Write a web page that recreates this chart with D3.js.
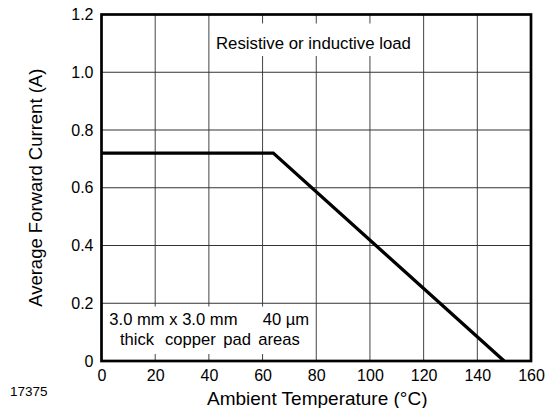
<!DOCTYPE html>
<html>
<head>
<meta charset="utf-8">
<script src="https://cdn.jsdelivr.net/npm/d3@7"></script>
<style>
  body { margin: 0; background: #fff; }
  text { font-family: "Liberation Sans", Arial, Helvetica, sans-serif; fill: #000; }
</style>
</head>
<body>
<svg></svg>
<script>
// derating curve
var temps = [0, 64, 150]
var currents = [0.72, 0.72, 0]
var xTicks = [0, 20, 40, 60, 80, 100, 120, 140, 160]
var yTicks = [0, 0.2, 0.4, 0.6, 0.8, 1.0, 1.2]
var yTickLabels = ["0", "0.2", "0.4", "0.6", "0.8", "1.0", "1.2"]

var dimensions = ({
    width: 546,
    height: 408,
    margin: { top: 14.5, right: 15, bottom: 47, left: 101.5 }
})
var x0 = dimensions.margin.left
var x1 = dimensions.width - dimensions.margin.right
var y0 = dimensions.height - dimensions.margin.bottom
var y1 = dimensions.margin.top

var svg = d3.select("svg").attr("width", dimensions.width)
                          .attr("height", dimensions.height)

var xScale = d3.scaleLinear().domain([0, 160]).range([x0, x1])
var yScale = d3.scaleLinear().domain([0, 1.2]).range([y0, y1])

// grid
svg.append("g").selectAll("line").data(xTicks.slice(1, -1)).enter()
    .append("line")
    .attr("x1", d => xScale(d)).attr("x2", d => xScale(d))
    .attr("y1", y0).attr("y2", y1)
    .attr("stroke", "#444").attr("stroke-width", 1)
svg.append("g").selectAll("line").data(yTicks.slice(1, -1)).enter()
    .append("line")
    .attr("x1", x0).attr("x2", x1)
    .attr("y1", d => yScale(d)).attr("y2", d => yScale(d))
    .attr("stroke", "#333").attr("stroke-width", 1)

// white boxes behind the notes
svg.append("rect").attr("x", 212).attr("y", 23.5).attr("width", 208).attr("height", 32.5).attr("fill", "#fff")
svg.append("rect").attr("x", x0 + 1).attr("y", 306.5).attr("width", 211).attr("height", 47.5).attr("fill", "#fff")

// curve
var line = d3.line().x(d => xScale(d[0])).y(d => yScale(d[1]))
svg.append("path")
    .attr("d", line(d3.zip(temps, currents)))
    .attr("fill", "none").attr("stroke", "#000").attr("stroke-width", 3.3)
    .attr("stroke-linejoin", "miter")

// frame
svg.append("rect").attr("x", x0).attr("y", y1)
    .attr("width", x1 - x0).attr("height", y0 - y1)
    .attr("fill", "none").attr("stroke", "#000").attr("stroke-width", 2.7)

// tick labels
var xAxis = d3.axisBottom(xScale).tickValues(xTicks).tickSize(0).tickPadding(9)
var gx = svg.append("g").attr("transform", "translate(0," + y0 + ")").call(xAxis)
gx.select(".domain").remove()
gx.selectAll("text").style("font-size", "16px").style("font-family", "Liberation Sans, Arial, sans-serif")

var yAxis = d3.axisLeft(yScale).tickValues(yTicks).tickSize(0).tickPadding(8)
    .tickFormat((d, i) => yTickLabels[i])
var gy = svg.append("g").attr("transform", "translate(" + x0 + ",0)").call(yAxis)
gy.select(".domain").remove()
gy.selectAll("text").style("font-size", "16px").style("font-family", "Liberation Sans, Arial, sans-serif")

// axis titles
svg.append("text").attr("x", (x0 + x1) / 2 + 1).attr("y", 405)
    .attr("text-anchor", "middle").style("font-size", "19px")
    .text("Ambient Temperature (°C)")
svg.append("text")
    .attr("transform", "translate(41.5," + (y0 + y1) / 2 + ") rotate(-90)")
    .attr("text-anchor", "middle").style("font-size", "18.5px")
    .text("Average Forward Current (A)")

svg.append("text").attr("x", 10).attr("y", 396).style("font-size", "13.5px").text("17375")

// notes
svg.append("text").attr("x", 216).attr("y", 49.3).style("font-size", "16.8px")
    .text("Resistive or inductive load")

var note = svg.append("text").style("font-size", "16.6px")
note.append("tspan").attr("x", 109.3).attr("y", 325).text("3.0 mm x 3.0 mm")
note.append("tspan").attr("x", 262.7).attr("y", 325).text("40 µm")
note.append("tspan").attr("x", 120).attr("y", 345).text("thick")
note.append("tspan").attr("x", 165).attr("y", 345).text("copper")
note.append("tspan").attr("x", 223.3).attr("y", 345).text("pad")
note.append("tspan").attr("x", 258.3).attr("y", 345).text("areas")
</script>
</body>
</html>
